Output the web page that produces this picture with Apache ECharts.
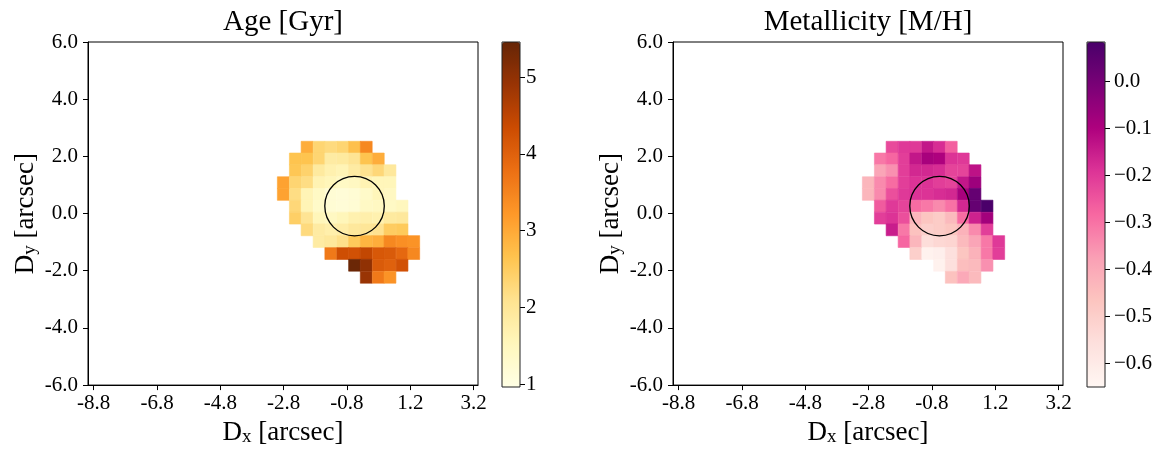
<!DOCTYPE html>
<html>
<head>
<meta charset="utf-8">
<script src="https://cdn.jsdelivr.net/npm/echarts@6/dist/echarts.min.js"></script>
<style>
  html, body { margin: 0; padding: 0; background: #fff; }
  #chart { width: 1163px; height: 452px; }
</style>
</head>
<body>
<div id="chart"></div>
<script>
// Spaxel centres (arcsec)
const xCenters = [-2.81, -2.43, -2.06, -1.68, -1.31, -0.93, -0.56, -0.19, 0.19, 0.56, 0.94, 1.31];
const yCenters = [2.32, 1.91, 1.50, 1.08, 0.67, 0.26, -0.16, -0.57, -0.98, -1.40, -1.81, -2.23];

// Mean stellar age per spaxel [Gyr], rows from top to bottom
const ageRows = [
  [null, null, 2.95, 2.35, 2.25, 2.35, 2.70, 3.45, null, null, null, null],
  [null, 2.65, 2.65, 2.35, 1.85, 1.90, 2.05, 2.65, 2.95, null, null, null],
  [null, 2.60, 2.40, 1.90, 1.70, 1.60, 1.85, 2.10, 2.30, 1.95, null, null],
  [3.10, 2.35, 2.20, 1.65, 1.55, 1.40, 1.45, 1.65, 1.55, 1.55, null, null],
  [3.10, 2.20, 1.60, 1.40, 1.20, 1.15, 1.20, 1.35, 1.55, 1.45, null, null],
  [null, 2.30, 1.60, 1.35, 1.20, 1.15, 1.20, 1.40, 1.45, 1.40, 1.50, null],
  [null, 2.45, 2.05, 1.55, 1.45, 1.55, 1.70, 1.75, 1.70, 1.90, 1.95, null],
  [null, null, 2.25, 1.85, 1.75, 1.80, 1.95, 2.00, 2.10, 2.50, 2.55, null],
  [null, null, null, 1.85, 1.95, 2.15, 2.55, 2.85, 2.95, 3.45, 3.35, 3.30],
  [null, null, null, null, 3.65, 4.30, 4.25, 4.45, 4.15, 4.10, 3.90, 3.45],
  [null, null, null, null, null, null, 5.40, 5.00, 4.10, 4.00, 4.25, null],
  [null, null, null, null, null, null, null, 4.90, 3.65, 3.30, null, null]
];

// Mean metallicity per spaxel [M/H], rows from top to bottom
const metalRows = [
  [null, null, -0.23, -0.20, -0.20, -0.14, -0.18, -0.27, null, null, null, null],
  [null, -0.31, -0.28, -0.21, -0.14, -0.09, -0.10, -0.19, -0.20, null, null, null],
  [null, -0.39, -0.35, -0.21, -0.17, -0.17, -0.18, -0.22, -0.22, -0.13, null, null],
  [-0.43, -0.34, -0.29, -0.21, -0.19, -0.19, -0.21, -0.22, -0.14, -0.07, null, null],
  [-0.43, -0.34, -0.24, -0.20, -0.19, -0.19, -0.18, -0.17, -0.09, 0.03, null, null],
  [null, -0.26, -0.20, -0.22, -0.29, -0.31, -0.34, -0.30, -0.17, 0.03, 0.08, null],
  [null, -0.21, -0.19, -0.24, -0.43, -0.47, -0.49, -0.44, -0.29, -0.16, -0.08, null],
  [null, null, -0.15, -0.31, -0.46, -0.50, -0.49, -0.47, -0.42, -0.34, -0.21, null],
  [null, null, null, -0.28, -0.43, -0.55, -0.53, -0.52, -0.44, -0.39, -0.31, -0.20],
  [null, null, null, null, -0.50, -0.63, -0.62, -0.56, -0.47, -0.42, -0.31, -0.21],
  [null, null, null, null, null, null, -0.63, -0.56, -0.45, -0.44, -0.35, null],
  [null, null, null, null, null, null, null, -0.46, -0.40, -0.44, null, null]
];

// Aperture: centre x, centre y, radius (arcsec)
const aperture = [-0.56, 0.26, 0.94];

const xTicks = [-8.8, -6.8, -4.8, -2.8, -0.8, 1.2, 3.2];
const yTicks = [-6, -4, -2, 0, 2, 4, 6];
const xRange = [-8.98, 3.34];
const yRange = [-6, 6];
const ageTicks = [1, 2, 3, 4, 5];
const ageRange = [0.965, 5.458];
const metalTicks = [0, -0.1, -0.2, -0.3, -0.4, -0.5, -0.6];
const metalRange = [-0.65, 0.083];

// ColorBrewer sequential ramps
const YlOrBr = ['#ffffe5', '#fff7bc', '#fee391', '#fec44f', '#fe9929', '#ec7014', '#cc4c02', '#993404', '#662506'];
const RdPu = ['#fff7f3', '#fde0dd', '#fcc5c0', '#fa9fb5', '#f768a1', '#dd3497', '#ae017e', '#7a0177', '#49006a'];

const FONT = '"Liberation Serif", "DejaVu Serif", serif';
const dx = (xCenters[xCenters.length - 1] - xCenters[0]) / (xCenters.length - 1);
const dy = (yCenters[0] - yCenters[yCenters.length - 1]) / (yCenters.length - 1);

function cells(rows) {
  const out = [];
  rows.forEach((row, j) => row.forEach((v, i) => {
    if (v !== null) out.push([xCenters[i], yCenters[j], v]);
  }));
  return out;
}

function renderCell(params, api) {
  const x = api.value(0), y = api.value(1);
  const p0 = api.coord([x - dx / 2, y + dy / 2]);
  const p1 = api.coord([x + dx / 2, y - dy / 2]);
  const c = api.visual('color');
  return {
    type: 'rect',
    shape: { x: p0[0], y: p0[1], width: p1[0] - p0[0], height: p1[1] - p0[1] },
    style: { fill: c, stroke: c, lineWidth: 0.6 }
  };
}

function renderAperture(params, api) {
  const c = api.coord([api.value(0), api.value(1)]);
  const r = api.size([api.value(2), 0])[0];
  return {
    type: 'circle',
    shape: { cx: c[0], cy: c[1], r: r },
    style: { fill: 'none', stroke: '#000', lineWidth: 1.3 }
  };
}

const panels = [
  { left: 88, title: 'Age [Gyr]', rows: ageRows, range: ageRange, ticks: ageTicks, colors: YlOrBr,
    fmt: v => String(v), cbMargin: 6 },
  { left: 673, title: 'Metallicity [M/H]', rows: metalRows, range: metalRange, ticks: metalTicks, colors: RdPu,
    fmt: v => (v === 0 ? '0.0' : '\u2212' + Math.abs(v).toFixed(1)), cbMargin: 9 }
];

const TOP = 42, W = 390, H = 345, CB_OFF = 414, CB_W = 18;
const axisTxt = { fontFamily: FONT, fontSize: 21, color: '#000' };
const nameRich = {
  m: { fontFamily: FONT, fontSize: 27, color: '#000', lineHeight: 29, verticalAlign: 'middle' },
  s: { fontFamily: FONT, fontSize: 19, color: '#000', lineHeight: 13, verticalAlign: 'bottom' }
};

const option = {
  animation: false,
  backgroundColor: '#fff',
  title: [], grid: [], xAxis: [], yAxis: [], series: [], visualMap: []
};

panels.forEach((p, k) => {
  const g = k * 2;
  option.title.push({
    text: p.title, left: p.left + W / 2, top: 8, textAlign: 'center', padding: 0,
    textStyle: { fontFamily: FONT, fontSize: 29, fontWeight: 'normal', color: '#000' }
  });
  // map frame
  option.grid.push({ left: p.left, top: TOP, width: W, height: H, show: true,
    borderColor: '#000', borderWidth: 1, backgroundColor: 'transparent', z: 5 });
  // colour bar frame
  option.grid.push({ left: p.left + CB_OFF, top: TOP, width: CB_W, height: H, show: true,
    borderColor: '#222', borderWidth: 1, backgroundColor: 'transparent', z: 10 });

  option.xAxis.push({
    gridIndex: g, type: 'value', min: xRange[0], max: xRange[1],
    name: '{m|D}{s|x}{m| [arcsec]}', nameLocation: 'middle', nameGap: 31,
    nameTextStyle: { rich: nameRich },
    axisLine: { show: true, onZero: false, lineStyle: { color: '#000', width: 1 } },
    axisTick: { show: true, inside: false, length: 5, customValues: xTicks, lineStyle: { color: '#000' } },
    axisLabel: { customValues: xTicks, margin: 8, formatter: v => v.toFixed(1), ...axisTxt },
    splitLine: { show: false }
  });
  option.yAxis.push({
    gridIndex: g, type: 'value', min: yRange[0], max: yRange[1],
    name: '{m|D}{s|y}{m| [arcsec]}', nameLocation: 'middle', nameGap: 48, nameRotate: 90,
    nameTextStyle: { rich: nameRich },
    axisLine: { show: true, onZero: false, lineStyle: { color: '#000', width: 1 } },
    axisTick: { show: true, inside: false, length: 5, customValues: yTicks, lineStyle: { color: '#000' } },
    axisLabel: { customValues: yTicks, margin: 10, formatter: v => v.toFixed(1), ...axisTxt },
    splitLine: { show: false }
  });
  // colour bar axes
  option.xAxis.push({ gridIndex: g + 1, type: 'value', min: 0, max: 1, show: false });
  option.yAxis.push({
    gridIndex: g + 1, type: 'value', position: 'right', min: p.range[0], max: p.range[1],
    axisLine: { show: false, onZero: false },
    axisTick: { show: true, inside: false, length: 5, customValues: p.ticks, lineStyle: { color: '#000' } },
    axisLabel: { customValues: p.ticks, margin: p.cbMargin, formatter: p.fmt, ...axisTxt },
    splitLine: { show: false }
  });

  const sIdx = option.series.length;
  option.series.push({
    type: 'custom', coordinateSystem: 'cartesian2d', xAxisIndex: g, yAxisIndex: g,
    renderItem: renderCell, encode: { x: 0, y: 1 }, data: cells(p.rows), z: 2, silent: true
  });
  option.series.push({
    type: 'custom', coordinateSystem: 'cartesian2d', xAxisIndex: g, yAxisIndex: g,
    renderItem: renderAperture, encode: { x: 0, y: 1 }, data: [aperture], z: 3, silent: true
  });
  option.visualMap.push({
    type: 'continuous', seriesIndex: sIdx, dimension: 2,
    min: p.range[0], max: p.range[1], inRange: { color: p.colors },
    calculable: false, hoverLink: false, realtime: false, text: null,
    left: p.left + CB_OFF, top: TOP, itemWidth: CB_W, itemHeight: H, padding: 0
  });
});

const chart = echarts.init(document.getElementById('chart'), null, { renderer: 'canvas' });
chart.setOption(option);
</script>
</body>
</html>
